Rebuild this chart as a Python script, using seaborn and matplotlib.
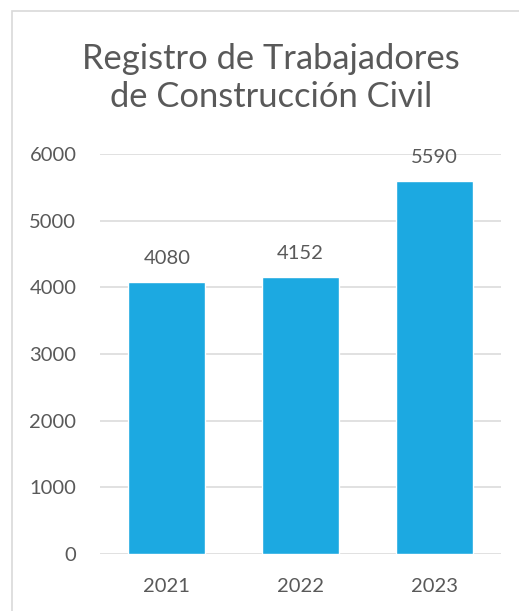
import seaborn as sns
import matplotlib.pyplot as plt
import pandas as pd
from matplotlib.patches import Rectangle

years = ['2021', '2022', '2023']
workers = [4080, 4152, 5590]
yticks = [0, 1000, 2000, 3000, 4000, 5000, 6000]

df = pd.DataFrame({'year': years, 'workers': workers})

sns.set_theme(style='white')
plt.rcParams['font.family'] = ['Lato', 'DejaVu Sans']

gray = '#595959'
fig = plt.figure(figsize=(5.19, 6.11), dpi=100)
ax = fig.add_axes([100 / 519, 57 / 611, 401 / 519, 400 / 611])

sns.barplot(data=df, x='year', y='workers', color='#1CA9E1', saturation=1,
            width=0.575, ax=ax)

ax.set_ylim(0, 6000)
ax.set_xlim(-0.5, 2.5)
ax.set_yticks(yticks)
ax.yaxis.grid(True, color='#D9D9D9', linewidth=1.1)
ax.set_axisbelow(True)
for s in ax.spines.values():
    s.set_visible(False)
ax.set_xlabel('')
ax.set_ylabel('')
ax.tick_params(axis='y', length=0, pad=17, labelsize=14.5, labelcolor=gray)
ax.tick_params(axis='x', length=0, pad=17, labelsize=14.5, labelcolor=gray)

ax.bar_label(ax.containers[0], padding=11, fontsize=14.5, color=gray)

fig.text(0.522, 0.872, 'Registro de Trabajadores\nde Construcción Civil',
         ha='center', va='center', fontsize=24.8, color=gray, linespacing=1.24)

# chart frame (cropped on right and bottom)
fig.add_artist(Rectangle((11.5 / 519, -0.1), 1.2, (611 - 10.5) / 611 + 0.1,
                         transform=fig.transFigure, fill=False,
                         edgecolor='#D9D9D9', linewidth=1.2))

fig.savefig('out.png', dpi=100)
